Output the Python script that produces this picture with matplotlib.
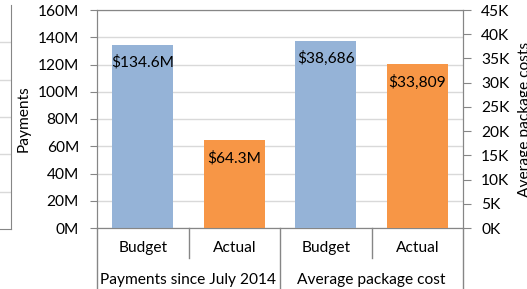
import matplotlib
matplotlib.use("Agg")
import matplotlib.pyplot as plt
from matplotlib.ticker import FuncFormatter, MultipleLocator
import matplotlib.transforms as mtransforms

plt.rcParams['font.family'] = ['Lato', 'DejaVu Sans']

# ---- data ----
categories = ["Budget", "Actual", "Budget", "Actual"]
groups = ["Payments since July 2014", "Average package cost"]
payments = [134.6e6, 64.3e6]            # left axis
payment_labels = ["$134.6M", "$64.3M"]
package_cost = [38686, 33809]           # right axis
package_labels = ["$38,686", "$33,809"]

blue = "#95B3D7"
orange = "#F79646"
grid_c = "#D9D9D9"
spine_c = "#868686"
FS = 11.2

W, H = 527, 289
fig = plt.figure(figsize=(W / 100, H / 100), dpi=100)

def px(x0, y0, x1, y1):
    return [x0 / W, 1 - y1 / H, (x1 - x0) / W, (y1 - y0) / H]

# partial neighbouring chart on the far left
axl = fig.add_axes(px(-40, 5, 10.5, 229))
axl.set_xlim(0, 1); axl.set_ylim(0, 6)
axl.set_xticks([]); axl.set_yticks(range(1, 6))
axl.tick_params(length=0, labelleft=False)
axl.grid(axis='y', color=grid_c, lw=1)
for s in ['top', 'left']:
    axl.spines[s].set_visible(False)
for s in ['right', 'bottom']:
    axl.spines[s].set_color(spine_c)

ax = fig.add_axes(px(97, 10, 463, 228))
ax2 = ax.twinx()
pos = [1, 2, 3, 4]
bw = 0.67
colors = [blue, orange]

b1 = ax.bar(pos[:2], payments, width=bw, color=colors, zorder=3)
b2 = ax2.bar(pos[2:], package_cost, width=bw, color=colors, zorder=3)

ax.set_xlim(0.5, 4.5)
ax.set_ylim(0, 160e6)
ax.yaxis.set_major_locator(MultipleLocator(20e6))
ax.yaxis.set_major_formatter(FuncFormatter(lambda v, p: f"{v/1e6:.0f}M"))
ax2.set_ylim(0, 45000)
ax2.yaxis.set_major_locator(MultipleLocator(5000))
ax2.yaxis.set_major_formatter(FuncFormatter(lambda v, p: f"{v/1e3:.0f}K"))

ax.grid(axis='y', color=grid_c, lw=1, zorder=0)
ax.set_axisbelow(True)
ax.set_xticks([])
for a in (ax, ax2):
    for s in a.spines.values():
        s.set_color(spine_c)
ax.tick_params(axis='y', length=5, color=spine_c, labelsize=FS, pad=8)
ax2.tick_params(axis='y', length=6, color=spine_c, labelsize=FS, pad=7)
ax.set_ylabel("Payments", fontsize=FS, labelpad=5)
ax2.set_ylabel("Average package costs", fontsize=FS, labelpad=6)

# value labels inside top of bars
for rect, lab in zip(b1, payment_labels):
    ax.annotate(lab, (rect.get_x() + rect.get_width() / 2, rect.get_height()),
                xytext=(0, -13), textcoords='offset points', ha='center', va='center',
                fontsize=FS, color='black', zorder=4)
for rect, lab in zip(b2, package_labels):
    ax2.annotate(lab, (rect.get_x() + rect.get_width() / 2, rect.get_height()),
                 xytext=(0, -13), textcoords='offset points', ha='center', va='center',
                 fontsize=FS, color='black', zorder=4)

# multi-level category axis
trans = mtransforms.blended_transform_factory(ax.transData, ax.transAxes)
ah = 218.0
def ay(ypx):
    return (228 - ypx) / ah
for xb in [1.5, 3.5]:
    ax.plot([xb, xb], [ay(228), ay(258)], color=spine_c, lw=1, transform=trans, clip_on=False)
for xb in [0.5, 2.5, 4.5]:
    ax.plot([xb, xb], [ay(228), ay(295)], color=spine_c, lw=1, transform=trans, clip_on=False)
for p, c in zip(pos, categories):
    ax.text(p, ay(248), c, transform=trans, ha='center', va='center', fontsize=FS)
for i, g in enumerate(groups):
    ax.text(1.5 + 2 * i, ay(280), g, transform=trans, ha='center', va='center', fontsize=FS)

fig.savefig("out.png", dpi=100)
